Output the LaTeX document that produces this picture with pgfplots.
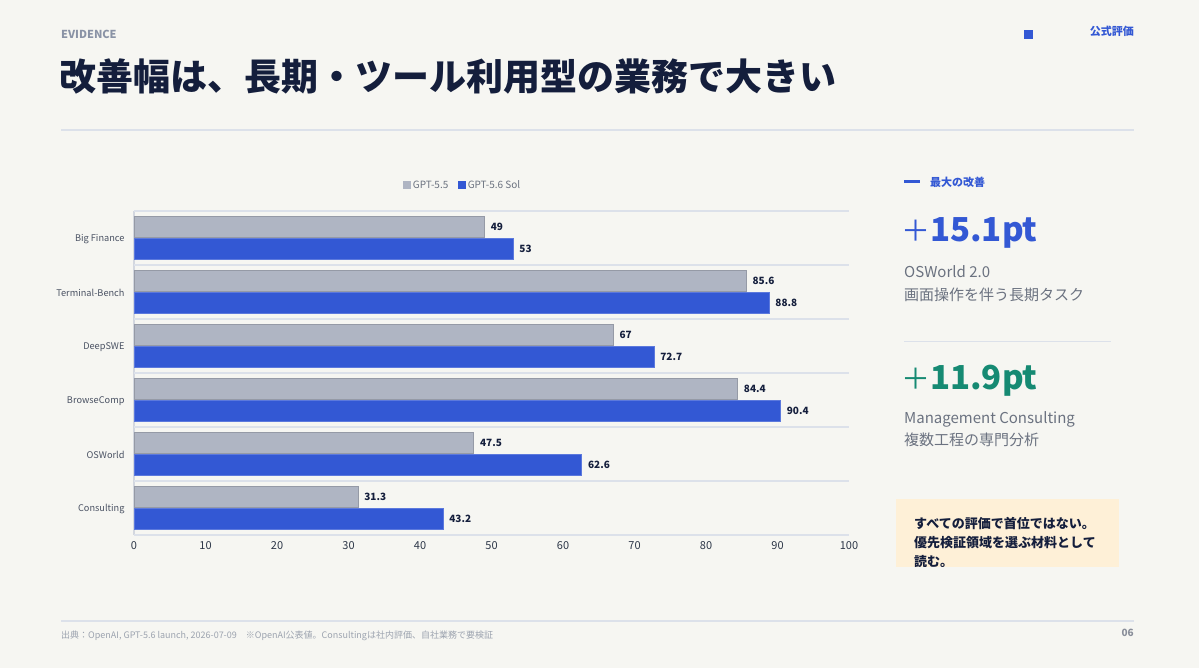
\documentclass[border=0pt]{standalone}
\usepackage{fontspec}
\setmainfont{Noto Sans CJK JP}
\usepackage{pgfplots}
\pgfplotsset{compat=1.18}
\definecolor{bg}{HTML}{F6F6F2}
\definecolor{navy}{HTML}{141E3C}
\definecolor{evid}{HTML}{8A93A6}
\definecolor{rule}{HTML}{DCE1EA}
\definecolor{accent}{HTML}{3358D4}
\definecolor{barg}{HTML}{AFB5C3}
\definecolor{teal}{HTML}{168A73}
\definecolor{subtxt}{HTML}{6B7280}
\definecolor{ylab}{HTML}{4A5263}
\definecolor{xlab}{HTML}{2D3748}
\definecolor{note}{HTML}{FEF0D7}
\definecolor{foot}{HTML}{9CA3AF}
\newcommand\fs[1]{\fontsize{#1bp}{#1bp}\selectfont}
\begin{document}
\begin{tikzpicture}[x=1bp,y=1bp]
\fill[bg] (0,0) rectangle (1199,668);
\useasboundingbox (0,0) rectangle (1199,668);
% header
\node[anchor=west, inner sep=0, text=evid, font=\fs{11}\bfseries] at (61,634) {EVIDENCE};
\node[anchor=west, inner sep=0, text=navy, font=\fs{37}\bfseries] at (59,591) {改善幅は、長期・ツール利用型の業務で大きい};
\draw[line width=1.2bp, color=rule] (61,538) -- (1134,538);
\fill[accent] (1024,629) rectangle (1033,638);
\node[anchor=east, inner sep=0, text=accent, font=\fs{11}\bfseries] at (1134,637) {公式評価};
% chart
\begin{axis}[
  at={(134bp,133bp)}, anchor=south west,
  scale only axis, width=715bp, height=324bp,
  xmin=0, xmax=100, ymin=-0.5, ymax=5.5,
  xbar, bar width=21bp,
  xtick={0,10,...,100},
  ytick={0,...,5},
  yticklabels={Consulting,OSWorld,BrowseComp,DeepSWE,Terminal-Bench,Big Finance},
  axis line style={draw=none},
  major tick length=0pt,
  /pgf/number format/assume math mode=true,
  x tick label style={font=\fs{11}, text=xlab},
  y tick label style={font=\fs{9.2}, text=ylab},
  yticklabel style={xshift=-6bp, yshift=-1bp},
  xticklabel style={yshift=-3bp},
  extra y ticks={-0.5,0.5,1.5,2.5,3.5,4.5,5.5},
  extra y tick labels={},
  extra y tick style={grid=major, major grid style={draw=rule, line width=1.5bp}},
  extra x ticks={0},
  extra x tick labels={},
  extra x tick style={grid=major, major grid style={draw=rule!90!gray, line width=1.5bp}},
  nodes near coords,
  nodes near coords style={font=\fs{10}\bfseries, text=navy, anchor=west, xshift=3bp},
  legend style={at={(0.46,1.08)}, anchor=center, draw=none, fill=none,
    font=\fs{10}, text=subtxt, legend columns=2,
    /tikz/every even column/.append style={column sep=8bp}},
]
\addplot[fill=barg, draw=barg!85!black, line width=0.4bp, bar shift=11bp,
  legend image code/.code={\fill[barg] (0bp,-3.5bp) rectangle (7bp,3.5bp);}]
  coordinates {(49,5) (85.6,4) (67,3) (84.4,2) (47.5,1) (31.3,0)};
\addlegendentry{GPT-5.5}
\addplot[fill=accent, draw=accent!80!white, line width=0.4bp, bar shift=-11bp,
  legend image code/.code={\fill[accent] (0bp,-3.5bp) rectangle (7bp,3.5bp);}]
  coordinates {(53,5) (88.8,4) (72.7,3) (90.4,2) (62.6,1) (43.2,0)};
\addlegendentry{GPT-5.6 Sol}
\end{axis}
% right panel
\draw[accent, line width=3bp] (904,486) -- (920,486);
\node[anchor=west, inner sep=0, text=accent, font=\fs{11}\bfseries] at (930,486) {最大の改善};
\node[anchor=west, inner sep=0, text=accent] at (901,435) {{\fs{29}＋}{\fs{33}\bfseries 15.1pt}};
\node[anchor=west, inner sep=0, text=subtxt, font=\fs{15}] at (904,396) {OSWorld 2.0};
\node[anchor=west, inner sep=0, text=subtxt, font=\fs{15}] at (904,373) {画面操作を伴う長期タスク};
\draw[rule, line width=1bp] (904,326) -- (1111,326);
\node[anchor=west, inner sep=0, text=teal] at (901,287) {{\fs{29}＋}{\fs{33}\bfseries 11.9pt}};
\node[anchor=west, inner sep=0, text=subtxt, font=\fs{15}] at (904,249) {Management Consulting};
\node[anchor=west, inner sep=0, text=subtxt, font=\fs{15}] at (904,228) {複数工程の専門分析};
% note box
\fill[note] (896,101) rectangle (1119,169);
\begin{scope}
\clip (896,101) rectangle (1119,169);
\node[anchor=west, inner sep=0, text=navy, font=\fs{13}\bfseries] at (914,144) {すべての評価で首位ではない。};
\node[anchor=west, inner sep=0, text=navy, font=\fs{13}\bfseries] at (914,125) {優先検証領域を選ぶ材料として};
\node[anchor=west, inner sep=0, text=navy, font=\fs{13}\bfseries] at (914,106) {読む。};
\end{scope}
% footer
\draw[rule, line width=1.2bp] (61,47) -- (1134,47);
\node[anchor=west, inner sep=0, text=foot, font=\fs{9}] at (61,32) {出典：OpenAI, GPT-5.6 launch, 2026-07-09　※OpenAI公表値。Consultingは社内評価、自社業務で要検証};
\node[anchor=east, inner sep=0, text=subtxt!80!white, font=\fs{10}\bfseries] at (1134,35) {06};
\end{tikzpicture}
\end{document}
